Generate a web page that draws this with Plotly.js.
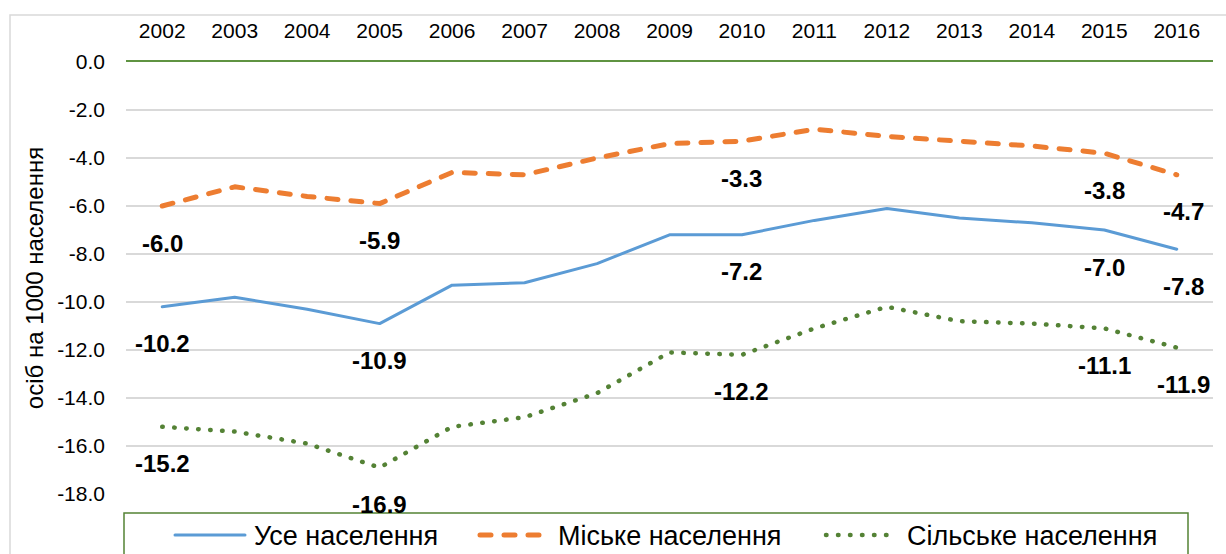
<!DOCTYPE html>
<html>
<head>
<meta charset="utf-8">
<script src="https://cdn.plot.ly/plotly-3.0.1.min.js"></script>
<style>
  html, body { margin: 0; padding: 0; background: #fff; }
  #chart { width: 1226px; height: 554px; }
</style>
</head>
<body>
<div id="chart"></div>
<script>
// ---- data ----
const years = ['2002','2003','2004','2005','2006','2007','2008','2009','2010','2011','2012','2013','2014','2015','2016'];
const totalPop = [-10.2, -9.8, -10.3, -10.9, -9.3, -9.2, -8.4, -7.2, -7.2, -6.6, -6.1, -6.5, -6.7, -7.0, -7.8];
const urbanPop = [-6.0, -5.2, -5.6, -5.9, -4.6, -4.7, -4.0, -3.4, -3.3, -2.8, -3.1, -3.3, -3.5, -3.8, -4.7];
const ruralPop = [-15.2, -15.4, -15.9, -16.9, -15.2, -14.8, -13.8, -12.1, -12.2, -11.1, -10.2, -10.8, -10.9, -11.1, -11.9];
const seriesNames = ['Усе населення', 'Міське населення', 'Сільське населення'];
const labelledYears = ['2002', '2005', '2010', '2015', '2016'];
const yTickVals = [0, -2, -4, -6, -8, -10, -12, -14, -16, -18];
const yTickLabels = ['0.0', '-2.0', '-4.0', '-6.0', '-8.0', '-10.0', '-12.0', '-14.0', '-16.0', '-18.0'];
const yTitle = 'осіб на 1000 населення';

// ---- styles ----
const FONT = 'Liberation Sans, Arial, sans-serif';
const seriesValues = [totalPop, urbanPop, ruralPop];
const seriesLines = [
  { color: '#5B9BD5', width: 3, dash: 'solid' },
  { color: '#ED7D31', width: 5, dash: '11px,13px' },
  { color: '#548235', width: 4.5, dash: '0.5px,11.5px' }
];

const traces = seriesValues.map((vals, i) => ({
  type: 'scatter',
  mode: 'lines',
  x: years,
  y: vals,
  name: seriesNames[i],
  line: seriesLines[i],
  showlegend: false,
  hoverinfo: 'x+y+name'
}));

// data labels (category axis: position by category index)
const annotations = [];
seriesValues.forEach((vals) => {
  labelledYears.forEach((yr) => {
    const idx = years.indexOf(yr);
    annotations.push({
      xref: 'x', yref: 'y',
      x: idx, y: vals[idx],
      text: vals[idx].toFixed(1),
      showarrow: false,
      yshift: -37,
      xshift: idx === years.length - 1 ? 7 : 0,
      font: { family: FONT, size: 24, color: '#000', weight: 700 }
    });
  });
});

// manual legend (layout positions in px converted to paper coords)
const plotL = 126, plotW = 1087, plotT = 62, plotH = 432;
const px = (v) => (v - plotL) / plotW;
const py = (v) => (plotT + plotH - v) / plotH;

const shapes = [
  { type: 'rect', xref: 'paper', yref: 'paper', x0: px(10), x1: px(1240), y0: py(580), y1: py(15),
    line: { color: '#d9d9d9', width: 1.5 }, fillcolor: 'rgba(0,0,0,0)', layer: 'below' },
  { type: 'rect', xref: 'paper', yref: 'paper', x0: px(124), x1: px(1188), y0: py(575), y1: py(513),
    line: { color: '#548235', width: 1.5 }, fillcolor: '#ffffff', layer: 'above' }
];
const legendSample = [[175, 245], [480, 545], [826, 892]];
const legendTextX = [252, 556, 905];
const legendY = 535;
seriesNames.forEach((nm, i) => {
  shapes.push({
    type: 'line', xref: 'paper', yref: 'paper',
    x0: px(legendSample[i][0]), x1: px(legendSample[i][1]), y0: py(legendY), y1: py(legendY),
    line: seriesLines[i], layer: 'above'
  });
  annotations.push({
    xref: 'paper', yref: 'paper', x: px(legendTextX[i]), y: py(legendY + 1),
    xanchor: 'left', yanchor: 'middle', showarrow: false,
    text: nm, font: { family: FONT, size: 27, color: '#000' }
  });
});

const layout = {
  width: 1226, height: 554,
  margin: { l: plotL, r: 1226 - plotL - plotW, t: plotT, b: 554 - plotT - plotH },
  paper_bgcolor: '#ffffff', plot_bgcolor: '#ffffff',
  font: { family: FONT, color: '#000' },
  xaxis: {
    type: 'category', side: 'top', range: [-0.5, years.length - 0.5],
    showgrid: false, zeroline: false,
    showline: true, linecolor: '#5f9341', linewidth: 1.5,
    ticks: '', ticklabelstandoff: 14,
    tickfont: { family: FONT, size: 21, color: '#000' },
    fixedrange: true, automargin: false
  },
  yaxis: {
    range: [-18, 0],
    tickvals: yTickVals, ticktext: yTickLabels,
    showgrid: true, gridcolor: '#d9d9d9', gridwidth: 1.5,
    zeroline: false, showline: false, ticks: '',
    ticklabelstandoff: 20,
    tickfont: { family: FONT, size: 21, color: '#000' },
    title: { text: yTitle, font: { family: FONT, size: 24, color: '#000' }, standoff: 6 },
    fixedrange: true, automargin: false
  },
  showlegend: false,
  shapes: shapes,
  annotations: annotations
};

const gd = document.getElementById('chart');
function roundCaps() {
  gd.querySelectorAll('.scatterlayer path.js-line, .shapelayer path').forEach((p) => {
    p.style.strokeLinecap = 'round';
    p.style.strokeLinejoin = 'round';
  });
  gd.querySelectorAll('.shapelayer path').forEach((p) => {
    const d = p.getAttribute('d') || '';
    if (d.indexOf('Z') >= 0) { p.style.strokeLinecap = 'butt'; p.style.strokeLinejoin = 'miter'; }
  });
}
Plotly.newPlot(gd, traces, layout, { displayModeBar: false }).then(() => {
  roundCaps();
  gd.on('plotly_afterplot', roundCaps);
});
</script>
</body>
</html>
